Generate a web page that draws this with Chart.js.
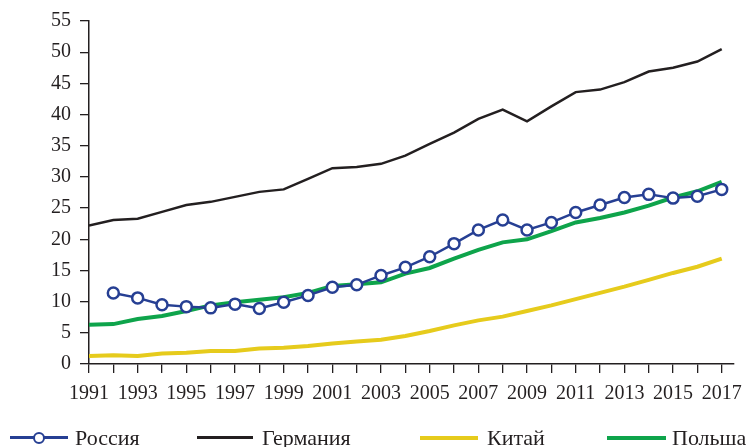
<!DOCTYPE html>
<html>
<head>
<meta charset="utf-8">
<script src="https://cdn.jsdelivr.net/npm/chart.js"></script>
<style>
  body { margin: 0; background: #fff; }
  #wrap { position: relative; width: 751px; height: 447px; overflow: hidden; }
  .lg-line { position: absolute; }
  .lg-dot { position: absolute; width: 8px; height: 8px; border: 2.5px solid #263f93; border-radius: 50%; background: #fff; }
  .lg-text { position: absolute; font-family: "Liberation Serif", serif; font-size: 22px; line-height: 22px; color: #231f20; white-space: nowrap; }
</style>
</head>
<body>
<div id="wrap">
  <canvas id="chart" width="751" height="447"></canvas>
  <div class="lg-line" style="left:10px;top:436px;width:58px;height:2.5px;background:#263f93"></div>
  <div class="lg-dot" style="left:32.5px;top:431.5px"></div>
  <div class="lg-text" style="left:75px;top:427px">Россия</div>
  <div class="lg-line" style="left:197px;top:436px;width:56px;height:2.5px;background:#231f20"></div>
  <div class="lg-text" style="left:262px;top:427px">Германия</div>
  <div class="lg-line" style="left:420px;top:435.5px;width:58px;height:4px;background:#e6cb1c"></div>
  <div class="lg-text" style="left:487px;top:427px">Китай</div>
  <div class="lg-line" style="left:607px;top:435.5px;width:59px;height:4px;background:#0ea44b"></div>
  <div class="lg-text" style="left:672px;top:427px">Польша</div>
</div>
<script>
// years on the x axis
const years = [1991, 1992, 1993, 1994, 1995, 1996, 1997, 1998, 1999, 2000,
  2001, 2002, 2003, 2004, 2005, 2006, 2007, 2008, 2009, 2010,
  2011, 2012, 2013, 2014, 2015, 2016, 2017];
const xTickLabels = ['1991', '1993', '1995', '1997', '1999', '2001', '2003',
  '2005', '2007', '2009', '2011', '2013', '2015', '2017'];

// series values
const russia = [null, 11.4, 10.6, 9.5, 9.2, 9.0, 9.6, 8.9, 9.9, 11.0,
  12.3, 12.7, 14.2, 15.5, 17.2, 19.3, 21.5, 23.1, 21.5, 22.7,
  24.3, 25.5, 26.7, 27.2, 26.6, 26.9, 28.0];
const germany = [22.2, 23.1, 23.3, 24.4, 25.5, 26.0, 26.8, 27.6, 28.0, 29.7,
  31.4, 31.6, 32.1, 33.4, 35.3, 37.1, 39.3, 40.8, 38.9, 41.3,
  43.6, 44.0, 45.2, 46.9, 47.5, 48.5, 50.5];
const china = [1.3, 1.4, 1.3, 1.7, 1.8, 2.1, 2.1, 2.5, 2.6, 2.9,
  3.3, 3.6, 3.9, 4.5, 5.3, 6.2, 7.0, 7.6, 8.5, 9.4,
  10.4, 11.4, 12.4, 13.5, 14.6, 15.6, 16.9];
const poland = [6.3, 6.4, 7.2, 7.7, 8.5, 9.4, 9.9, 10.3, 10.7, 11.4,
  12.5, 12.8, 13.1, 14.5, 15.4, 16.9, 18.3, 19.5, 20.0, 21.3,
  22.7, 23.4, 24.3, 25.4, 26.7, 27.7, 29.2];

const ink = '#231f20';
const serif = '"Liberation Serif", "Times New Roman", serif';

function pts(vals) {
  return years.map((y, i) => ({ x: y, y: vals[i] }));
}

const ctx = document.getElementById('chart').getContext('2d');
new Chart(ctx, {
  type: 'line',
  data: {
    datasets: [
      {
        label: 'Россия',
        data: pts(russia),
        borderColor: '#263f93',
        borderWidth: 2.5,
        pointRadius: 5.5,
        pointBorderWidth: 2.5,
        pointBackgroundColor: '#fff',
        pointBorderColor: '#263f93',
        tension: 0,
        order: 0
      },
      {
        label: 'Германия',
        data: pts(germany),
        borderColor: ink,
        borderWidth: 2.5,
        pointRadius: 0,
        tension: 0,
        order: 3
      },
      {
        label: 'Китай',
        data: pts(china),
        borderColor: '#e6cb1c',
        borderWidth: 4,
        pointRadius: 0,
        tension: 0,
        order: 2
      },
      {
        label: 'Польша',
        data: pts(poland),
        borderColor: '#0ea44b',
        borderWidth: 4,
        pointRadius: 0,
        tension: 0,
        order: 1
      }
    ]
  },
  options: {
    responsive: false,
    animation: false,
    devicePixelRatio: 1,
    layout: { padding: { top: 19, right: 15, left: 0, bottom: 0 } },
    plugins: {
      legend: { display: false },
      tooltip: { enabled: false }
    },
    scales: {
      x: {
        type: 'linear',
        min: 1991,
        max: 2017.5,
        afterFit: (scale) => { scale.height = 83; },
        border: { display: true, color: ink, width: 1.5 },
        grid: { drawOnChartArea: false, drawTicks: true, tickLength: 9, color: ink, lineWidth: 1.3 },
        ticks: {
          stepSize: 1,
          includeBounds: false,
          autoSkip: false,
          maxRotation: 0,
          padding: 9,
          color: ink,
          font: { family: serif, size: 20 },
          callback: (v) => xTickLabels.includes(String(v)) ? String(v) : ''
        }
      },
      y: {
        min: 0,
        max: 55,
        afterFit: (scale) => { scale.width = 89; },
        border: { display: true, color: ink, width: 1.5 },
        grid: { drawOnChartArea: false, drawTicks: true, tickLength: 9, color: ink, lineWidth: 1.3 },
        ticks: {
          stepSize: 5,
          padding: 9,
          color: ink,
          font: { family: serif, size: 20 }
        }
      }
    }
  }
});
</script>
</body>
</html>
